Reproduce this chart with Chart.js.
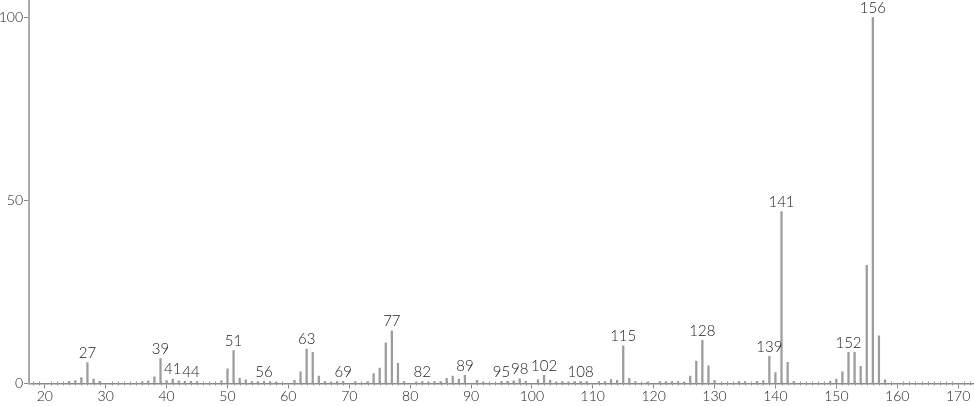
<!DOCTYPE html>
<html>
<head>
<meta charset="utf-8">
<script src="https://cdn.jsdelivr.net/npm/chart.js@4/dist/chart.umd.min.js"></script>
<style>
  html, body { margin: 0; padding: 0; background: #fff; }
  #wrap { width: 974px; height: 406px; }
</style>
</head>
<body>
<div id="wrap"><canvas id="spectrum"></canvas></div>
<script>
// m/z values and relative intensities (%)
const masses = [24, 25, 26, 27, 28, 29, 36, 37, 38, 39, 40, 41, 42, 43, 44, 45, 49, 50, 51, 52,
  53, 54, 55, 56, 57, 58, 61, 62, 63, 64, 65, 66, 67, 68, 69, 71, 73, 74, 75, 76,
  77, 78, 79, 81, 82, 83, 84, 85, 86, 87, 88, 89, 91, 92, 95, 96, 97, 98, 99, 101,
  102, 103, 104, 105, 106, 107, 108, 109, 111, 112, 113, 114, 115, 116, 117, 119, 121, 122, 123, 124,
  125, 126, 127, 128, 129, 130, 134, 135, 137, 138, 139, 140, 141, 142, 143, 149, 150, 151, 152, 153,
  154, 155, 156, 157, 158];
const intensities = [0.6, 0.8, 1.6, 5.7, 1.2, 0.6, 0.5, 0.7, 1.8, 6.8, 0.8, 1.2, 0.7, 0.6, 0.6, 0.5, 0.7, 4.0, 9.0, 1.5,
  1.0, 0.5, 0.5, 0.6, 0.5, 0.4, 0.9, 3.2, 9.4, 8.5, 2.0, 0.5, 0.4, 0.5, 0.6, 0.5, 0.5, 2.7, 4.2, 11.1,
  14.4, 5.5, 0.5, 0.4, 0.5, 0.4, 0.5, 0.5, 1.4, 2.0, 1.2, 2.2, 0.9, 0.4, 0.6, 0.6, 0.7, 1.3, 0.6, 1.1,
  2.2, 0.9, 0.4, 0.5, 0.4, 0.5, 0.5, 0.5, 0.5, 0.5, 1.1, 0.9, 10.3, 1.4, 0.5, 0.4, 0.5, 0.5, 0.5, 0.5,
  0.4, 2.0, 6.1, 11.8, 4.8, 0.9, 0.5, 0.5, 0.6, 0.8, 7.4, 3.0, 47.0, 5.8, 0.5, 0.6, 1.2, 3.2, 8.5, 8.5,
  4.7, 32.3, 100, 13.0, 1.0];
// peaks that carry an m/z label
const labelled = [27, 39, 41, 44, 51, 56, 63, 69, 77, 82, 89, 95, 98, 102, 108, 115, 128, 139, 141, 152, 156];
const xTicks = [20, 30, 40, 50, 60, 70, 80, 90, 100, 110, 120, 130, 140, 150, 160, 170];
const yTicks = [0, 50, 100];

const FONT = "Lato, 'DejaVu Sans', sans-serif";

/* ===============================
   PLUGINS
================================ */
const minorTicks = {
  id: "minorTicks",
  afterDraw(chart) {
    const x = chart.scales.x;
    const y0 = chart.scales.y.getPixelForValue(0);
    const ctx = chart.ctx;
    ctx.save();
    ctx.strokeStyle = "#999";
    ctx.lineWidth = 1;
    for (let m = Math.ceil(x.min); m <= x.max; m++) {
      if (m % 10 === 0) continue;
      const px = Math.round(x.getPixelForValue(m)) + 0.5;
      ctx.beginPath();
      ctx.moveTo(px, y0 - 2);
      ctx.lineTo(px, y0 + 2);
      ctx.stroke();
    }
    ctx.restore();
  }
};

const peakLabels = {
  id: "peakLabels",
  afterDatasetsDraw(chart) {
    const meta = chart.getDatasetMeta(0);
    const ctx = chart.ctx;
    ctx.save();
    ctx.font = "300 15px " + FONT;
    ctx.fillStyle = "#222";
    ctx.textAlign = "center";
    ctx.textBaseline = "bottom";
    masses.forEach((m, i) => {
      if (!labelled.includes(m)) return;
      const bar = meta.data[i];
      ctx.fillText(String(m), bar.x, bar.y - 2);
    });
    ctx.restore();
  }
};

const noPad = s => { s.paddingTop = 0; s.paddingBottom = 0; s.paddingLeft = 0; s.paddingRight = 0; };

/* ===============================
   CHART
================================ */
new Chart(document.getElementById("spectrum"), {
  type: "bar",
  data: {
    datasets: [{
      data: masses.map((m, i) => ({ x: m, y: intensities[i] })),
      backgroundColor: "#9c9c9c",
      barThickness: 1.6
    }]
  },
  options: {
    responsive: true,
    maintainAspectRatio: false,
    animation: false,
    layout: { padding: { left: 0, right: 1, top: 0, bottom: 0 } },
    plugins: { legend: { display: false }, tooltip: { enabled: false } },
    scales: {
      x: {
        type: "linear",
        offset: false,
        min: 17.4,
        max: 172.45,
        afterFit: s => { s.height = 22.5; noPad(s); },
        afterBuildTicks: s => { s.ticks = xTicks.map(v => ({ value: v })); },
        border: { color: "#8a8a8a", width: 1.5 },
        grid: { drawOnChartArea: false, tickLength: 5, color: "#8a8a8a", offset: false },
        ticks: { color: "#222", font: { family: FONT, size: 14, weight: 300 }, padding: 0, maxRotation: 0, autoSkip: false }
      },
      y: {
        min: 0,
        max: 104.8,
        afterFit: s => { s.width = 29; noPad(s); },
        afterBuildTicks: s => { s.ticks = yTicks.map(v => ({ value: v })); },
        border: { color: "#aaaaaa", width: 2 },
        grid: { drawOnChartArea: false, tickLength: 5, color: "#8a8a8a" },
        ticks: { color: "#222", font: { family: FONT, size: 14, weight: 300 }, padding: 1 }
      }
    }
  },
  plugins: [minorTicks, peakLabels]
});
</script>
</body>
</html>
